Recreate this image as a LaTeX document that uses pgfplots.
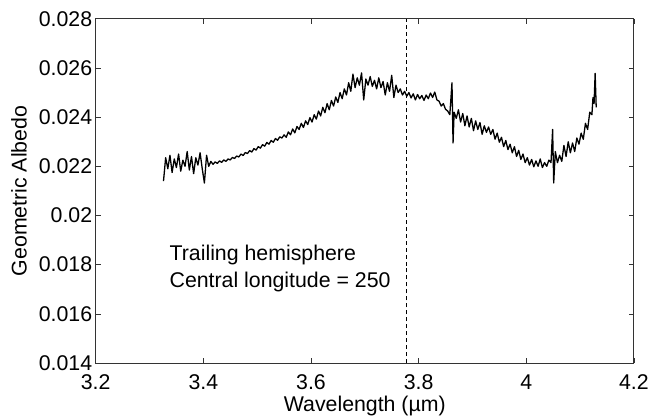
\documentclass[border=0pt]{standalone}
\usepackage{fontspec}
\setmainfont{Liberation Sans}
\usepackage{pgfplots}
\pgfplotsset{compat=1.18}

\pgfplotstableread{
lam alb
3.326 0.02140
3.330 0.02235
3.334 0.02190
3.338 0.02245
3.342 0.02175
3.346 0.02230
3.350 0.02195
3.354 0.02250
3.358 0.02180
3.362 0.02225
3.366 0.02200
3.370 0.02260
3.374 0.02185
3.378 0.02240
3.382 0.02170
3.386 0.02235
3.390 0.02205
3.394 0.02255
3.398 0.02190
3.402 0.02132
3.406 0.02245
3.410 0.02200
3.414 0.02220
3.418 0.02208
3.422 0.02218
3.426 0.02212
3.430 0.02222
3.434 0.02216
3.438 0.02226
3.442 0.02220
3.446 0.02230
3.450 0.02226
3.454 0.02236
3.458 0.02232
3.462 0.02242
3.466 0.02238
3.470 0.02250
3.474 0.02244
3.478 0.02256
3.482 0.02252
3.486 0.02264
3.490 0.02258
3.494 0.02272
3.498 0.02266
3.502 0.02280
3.506 0.02274
3.510 0.02288
3.514 0.02282
3.518 0.02297
3.522 0.02290
3.526 0.02305
3.530 0.02298
3.534 0.02313
3.538 0.02306
3.542 0.02320
3.546 0.02315
3.550 0.02328
3.554 0.02318
3.558 0.02340
3.562 0.02328
3.566 0.02352
3.570 0.02336
3.574 0.02362
3.578 0.02350
3.582 0.02375
3.586 0.02358
3.590 0.02385
3.594 0.02370
3.598 0.02398
3.602 0.02380
3.606 0.02410
3.610 0.02392
3.614 0.02425
3.618 0.02405
3.622 0.02440
3.626 0.02418
3.630 0.02455
3.634 0.02430
3.638 0.02468
3.642 0.02445
3.646 0.02482
3.650 0.02460
3.654 0.02500
3.658 0.02475
3.662 0.02515
3.666 0.02490
3.670 0.02540
3.674 0.02505
3.678 0.02575
3.682 0.02520
3.686 0.02560
3.690 0.02530
3.694 0.02580
3.698 0.02470
3.702 0.02555
3.706 0.02530
3.710 0.02565
3.714 0.02525
3.718 0.02550
3.722 0.02515
3.726 0.02560
3.730 0.02520
3.734 0.02545
3.738 0.02490
3.742 0.02540
3.746 0.02505
3.750 0.02570
3.754 0.02480
3.758 0.02530
3.762 0.02500
3.766 0.02515
3.770 0.02490
3.774 0.02505
3.778 0.02485
3.782 0.02500
3.786 0.02478
3.790 0.02495
3.794 0.02470
3.798 0.02492
3.802 0.02475
3.806 0.02488
3.810 0.02468
3.814 0.02490
3.818 0.02475
3.822 0.02498
3.826 0.02480
3.830 0.02502
3.834 0.02470
3.838 0.02465
3.842 0.02445
3.846 0.02455
3.850 0.02432
3.854 0.02425
3.858 0.02410
3.862 0.02540
3.864 0.02295
3.866 0.02420
3.870 0.02395
3.874 0.02430
3.878 0.02380
3.882 0.02415
3.886 0.02365
3.890 0.02405
3.894 0.02360
3.898 0.02395
3.902 0.02345
3.906 0.02385
3.910 0.02350
3.914 0.02378
3.918 0.02330
3.922 0.02365
3.926 0.02338
3.930 0.02360
3.934 0.02330
3.938 0.02350
3.942 0.02310
3.946 0.02335
3.950 0.02298
3.954 0.02318
3.958 0.02280
3.962 0.02305
3.966 0.02268
3.970 0.02290
3.974 0.02255
3.978 0.02280
3.982 0.02240
3.986 0.02265
3.990 0.02228
3.994 0.02250
3.998 0.02215
4.002 0.02235
4.006 0.02205
4.010 0.02228
4.014 0.02198
4.018 0.02222
4.022 0.02200
4.026 0.02230
4.030 0.02195
4.034 0.02215
4.038 0.02200
4.042 0.02225
4.046 0.02215
4.049 0.02350
4.051 0.02132
4.054 0.02260
4.058 0.02215
4.062 0.02245
4.066 0.02220
4.070 0.02285
4.074 0.02240
4.078 0.02300
4.082 0.02255
4.086 0.02295
4.090 0.02260
4.094 0.02315
4.098 0.02290
4.102 0.02335
4.106 0.02310
4.110 0.02375
4.114 0.02350
4.118 0.02420
4.122 0.02410
4.124 0.02480
4.126 0.02455
4.128 0.02578
4.130 0.02440
}\albedo

\begin{document}
\begin{tikzpicture}
\begin{axis}[
    scale only axis,
    width=541bp, height=346bp,
    xmin=3.2, xmax=4.2,
    ymin=0.014, ymax=0.028,
    scaled x ticks=false, scaled y ticks=false,
    xtick={3.2,3.4,3.6,3.8,4.0,4.2},
    xticklabels={3.2,3.4,3.6,3.8,4,4.2},
    ytick={0.014,0.016,0.018,0.020,0.022,0.024,0.026,0.028},
    yticklabels={0.014,0.016,0.018,0.02,0.022,0.024,0.026,0.028},
    tick align=inside,
    major tick length=5bp,
    axis line style={line width=0.8bp, black!80},
    tick style={line width=0.6bp, black!80},
    font=\fontsize{21.5}{25}\selectfont,
    xlabel={Wavelength (µm)},
    ylabel={Geometric Albedo},
    xticklabel style={anchor=center, yshift=-19bp},
    yticklabel style={anchor=east},
    xlabel style={at={(axis description cs:0.5,0)}, anchor=center, yshift=-43bp},
    ylabel style={at={(axis description cs:0,0.5)}, anchor=center, yshift=77bp},
]
\addplot[black, line width=1.3bp, line join=round] table[x=lam, y=alb] {\albedo};
\addplot[black, line width=0.8bp, dash pattern=on 4bp off 3bp] coordinates {(3.778,0.014) (3.778,0.028)};
\node[anchor=west, inner sep=0pt] at (axis cs:3.337,0.01841) {Trailing hemisphere};
\node[anchor=west, inner sep=0pt] at (axis cs:3.337,0.01728) {Central longitude = 250};
\end{axis}
\path (current bounding box.west) ++(-8bp,0) (current bounding box.north) ++(0,8bp);
\end{tikzpicture}
\end{document}
